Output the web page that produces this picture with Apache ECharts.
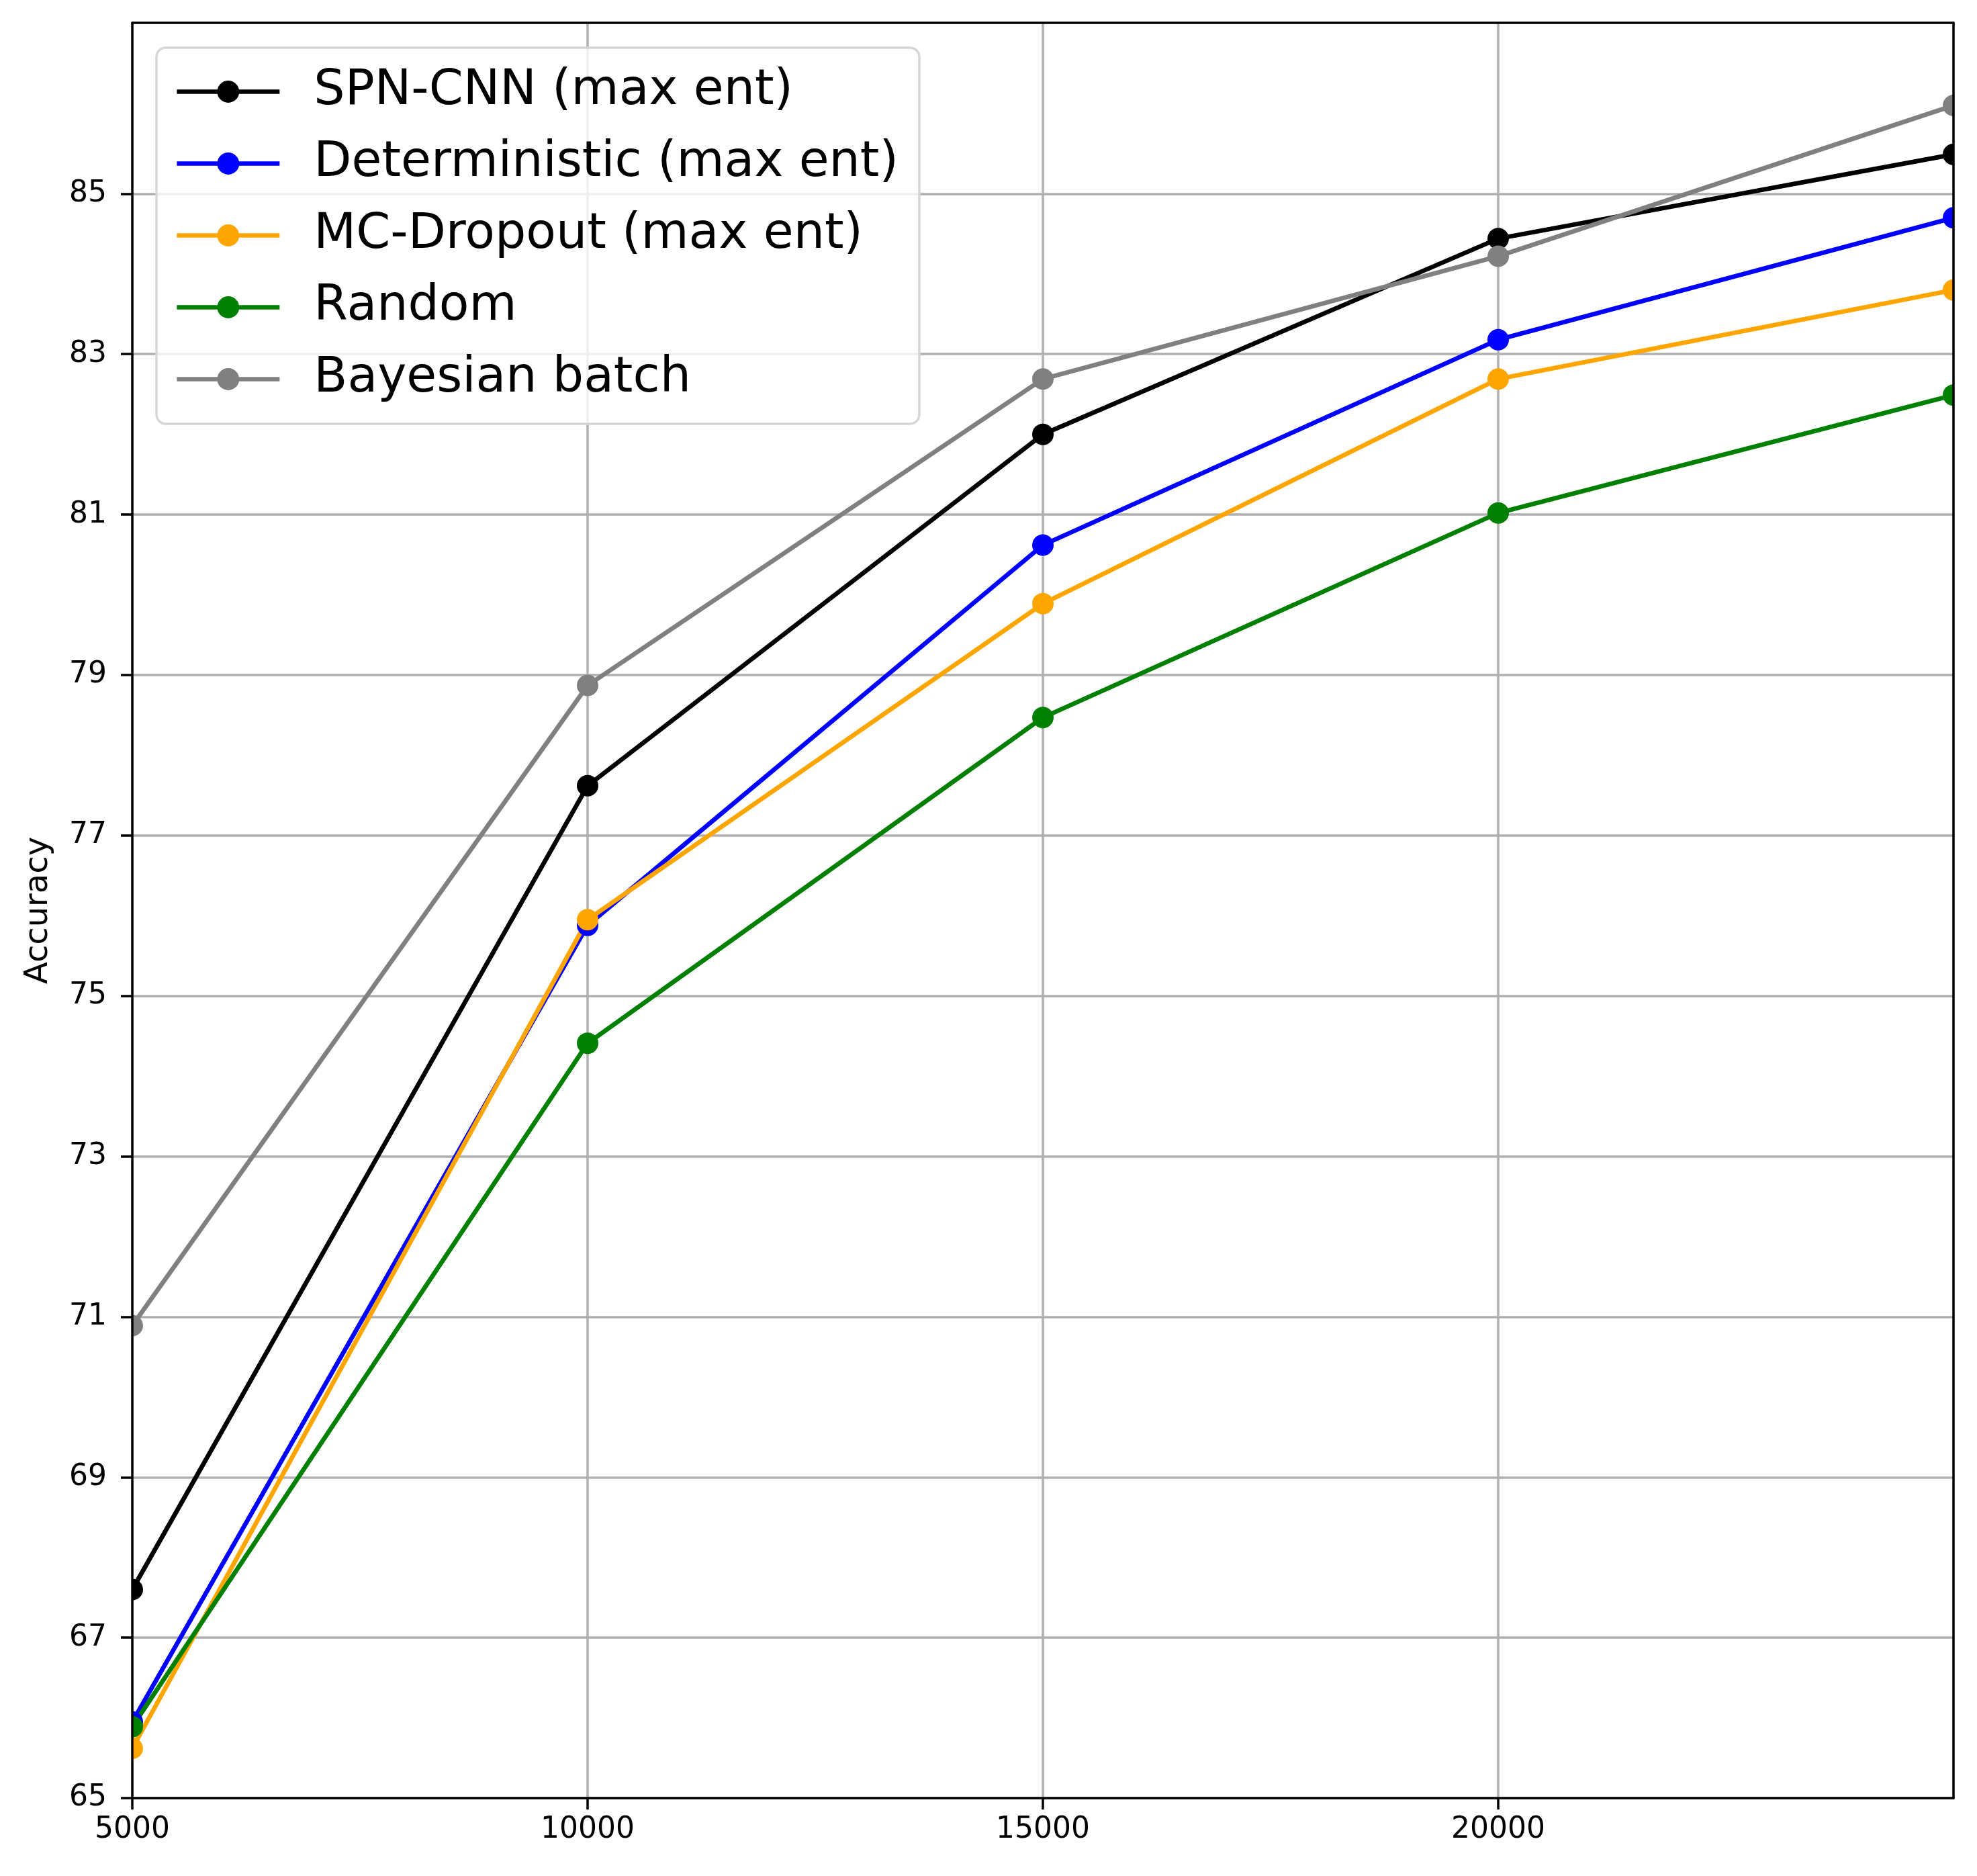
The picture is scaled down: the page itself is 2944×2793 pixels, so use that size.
<!DOCTYPE html>
<html>
<head>
<meta charset="utf-8">
<script src="https://cdn.jsdelivr.net/npm/echarts@6/dist/echarts.min.js"></script>
<style>
html,body{margin:0;padding:0;background:#fff;}
#chart{width:2944px;height:2793px;}
</style>
</head>
<body>
<div id="chart"></div>
<script>
// ---- data ----
var xValues = [5000, 10000, 15000, 20000, 25000];
var spnCnn = [67.60, 77.62, 82.00, 84.44, 85.49];
var deterministic = [65.95, 75.88, 80.62, 83.18, 84.70];
var mcDropout = [65.62, 75.95, 79.89, 82.69, 83.80];
var randomSel = [65.89, 74.41, 78.47, 81.02, 82.49];
var bayesianBatch = [70.89, 78.87, 82.69, 84.22, 86.10];
var seriesNames = ['SPN-CNN (max ent)', 'Deterministic (max ent)', 'MC-Dropout (max ent)', 'Random', 'Bayesian batch'];
var seriesColors = ['#000000', '#0000ff', '#ffa500', '#008000', '#808080'];
var xTicks = [5000, 10000, 15000, 20000];
var yTicks = [65, 67, 69, 71, 73, 75, 77, 79, 81, 83, 85];
var yAxisName = 'Accuracy';

var X_MIN = 5000, X_MAX = 25000, Y_MIN = 65, Y_MAX = 87.13;
var FONT = 'DejaVu Sans';

function pairs(ys) { return xValues.map(function (x, i) { return [x, ys[i]]; }); }
var allData = [spnCnn, deterministic, mcDropout, randomSel, bayesianBatch];

var chart = echarts.init(document.getElementById('chart'), null, {renderer: 'canvas'});

var series = allData.map(function (d, i) {
  return {
    name: seriesNames[i],
    type: 'line',
    data: pairs(d),
    xAxisIndex: 0,
    yAxisIndex: 0,
    symbol: 'circle',
    symbolSize: 32,
    showSymbol: true,
    clip: false,
    z: 2,
    color: seriesColors[i],
    itemStyle: {color: seriesColors[i]},
    lineStyle: {color: seriesColors[i], width: 6.7},
    emphasis: {disabled: true},
    animation: false
  };
});

var gridLine = {show: true, lineStyle: {color: '#b0b0b0', width: 3.5}};
var spine = {show: true, lineStyle: {color: '#000', width: 3.5}};
function plainNum(v) { return String(v); }

chart.setOption({
  animation: false,
  backgroundColor: '#fff',
  grid: {left: 197, right: 35, top: 34, bottom: 116, show: false},
  legend: {
    orient: 'vertical',
    left: 233,
    top: 71,
    data: seriesNames,
    itemWidth: 153,
    itemHeight: 41,
    itemGap: 34,
    padding: [29, 31, 30, 27],
    backgroundColor: 'rgba(255,255,255,0.8)',
    borderColor: '#d6d6d6',
    borderWidth: 3.5,
    borderRadius: 14,
    lineStyle: {width: 6.7},
    textStyle: {fontSize: 73, color: '#000', fontFamily: FONT, padding: [0, 0, 0, 46]},
    selectedMode: false,
    z: 20
  },
  xAxis: [
    {
      type: 'value', min: X_MIN, max: X_MAX, interval: 5000, position: 'bottom', z: 0,
      axisLine: {show: false}, axisTick: {show: false, customValues: xTicks},
      axisLabel: {show: false}, splitLine: gridLine
    },
    {
      type: 'value', min: X_MIN, max: X_MAX, interval: 5000, position: 'bottom', z: 10,
      axisLine: spine,
      axisTick: {show: true, inside: false, length: 17, lineStyle: {color: '#000', width: 3.5}, customValues: xTicks},
      axisLabel: {show: true, customValues: xTicks, formatter: plainNum, fontSize: 44, color: '#000', fontFamily: FONT, margin: 26},
      splitLine: {show: false}
    },
    {
      type: 'value', min: X_MIN, max: X_MAX, interval: 5000, position: 'top', z: 10,
      axisLine: spine, axisTick: {show: false}, axisLabel: {show: false}, splitLine: {show: false}
    }
  ],
  yAxis: [
    {
      type: 'value', min: Y_MIN, max: Y_MAX, interval: 2, position: 'left', z: 0,
      axisLine: {show: false}, axisTick: {show: false, customValues: yTicks},
      axisLabel: {show: false}, splitLine: gridLine
    },
    {
      type: 'value', min: Y_MIN, max: Y_MAX, interval: 2, position: 'left', z: 10,
      name: yAxisName, nameLocation: 'middle', nameGap: 115, nameRotate: 90,
      nameTextStyle: {fontSize: 48, color: '#000', fontFamily: FONT},
      axisLine: spine,
      axisTick: {show: true, inside: false, length: 17, lineStyle: {color: '#000', width: 3.5}, customValues: yTicks},
      axisLabel: {show: true, customValues: yTicks, formatter: plainNum, fontSize: 44, color: '#000', fontFamily: FONT, margin: 38},
      splitLine: {show: false}
    },
    {
      type: 'value', min: Y_MIN, max: Y_MAX, interval: 2, position: 'right', z: 10,
      axisLine: spine, axisTick: {show: false}, axisLabel: {show: false}, splitLine: {show: false}
    }
  ],
  graphic: [
    {type: 'rect', silent: true, z: 5, shape: {x: 0, y: 0, width: 197, height: 2793}, style: {fill: '#fff'}},
    {type: 'rect', silent: true, z: 5, shape: {x: 2909, y: 0, width: 35, height: 2793}, style: {fill: '#fff'}}
  ],
  series: series
});
</script>
</body>
</html>
